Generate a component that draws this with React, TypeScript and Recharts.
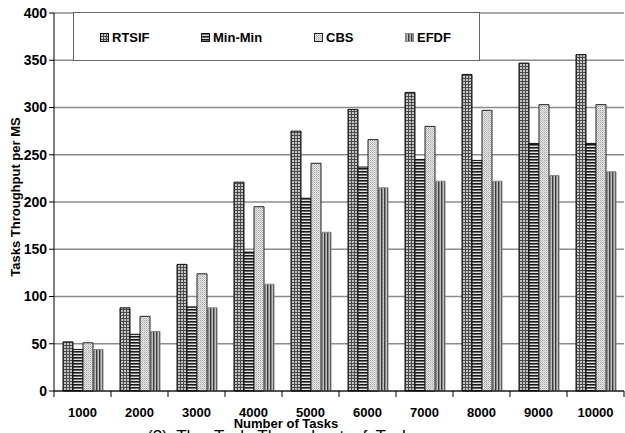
import React from 'react';
import { BarChart, Bar, XAxis, YAxis, CartesianGrid, Label } from 'recharts';

const taskCounts = ['1000', '2000', '3000', '4000', '5000', '6000', '7000', '8000', '9000', '10000'];
const rtsif = [52, 88, 134, 221, 275, 298, 316, 335, 347, 356];
const minMin = [44, 60, 89, 147, 204, 237, 245, 244, 262, 262];
const cbs = [51, 79, 124, 195, 241, 266, 280, 297, 303, 303];
const efdf = [44, 63, 88, 113, 168, 215, 222, 222, 228, 232];
const yTicks = [0, 50, 100, 150, 200, 250, 300, 350, 400];

const data = taskCounts.map((t, i) => ({
  tasks: t,
  RTSIF: rtsif[i],
  'Min-Min': minMin[i],
  CBS: cbs[i],
  EFDF: efdf[i],
}));

const series = [
  { key: 'RTSIF', fill: 'url(#pRtsif)', stroke: '#111', legendLeft: 26 },
  { key: 'Min-Min', fill: 'url(#pMinMin)', stroke: '#111', legendLeft: 127 },
  { key: 'CBS', fill: 'url(#pCbs)', stroke: '#222', legendLeft: 240 },
  { key: 'EFDF', fill: 'url(#pEfdf)', stroke: '#888', legendLeft: 331 },
];

const W = 625;
const H = 433;
const margin = { top: 13, right: 1, left: 0, bottom: 0 };
const yAxisWidth = 54;
const band = (W - margin.left - margin.right - yAxisWidth) / taskCounts.length;
const font = '"Liberation Sans", Arial, sans-serif';

function Patterns() {
  return (
    <defs>
      <pattern id="pRtsif" width="3" height="3" patternUnits="userSpaceOnUse">
        <rect width="3" height="3" fill="#c4c4c4" />
        <rect width="3" height="1" fill="#4a4a4a" />
        <rect width="1" height="3" fill="#4a4a4a" />
      </pattern>
      <pattern id="pMinMin" width="3" height="3" patternUnits="userSpaceOnUse">
        <rect width="3" height="3" fill="#6a6a6a" />
        <rect width="3" height="1" fill="#1a1a1a" />
        <rect y="2" width="3" height="1" fill="#e0e0e0" />
      </pattern>
      <pattern id="pCbs" width="2" height="2" patternUnits="userSpaceOnUse">
        <rect width="2" height="2" fill="#e8e8e8" />
        <rect width="1" height="1" fill="#a8a8a8" />
        <rect x="1" y="1" width="1" height="1" fill="#c4c4c4" />
      </pattern>
      <pattern id="pEfdf" width="3" height="3" patternUnits="userSpaceOnUse">
        <rect width="3" height="3" fill="#c0c0c0" />
        <rect width="1" height="3" fill="#3a3a3a" />
        <rect x="1" width="1" height="3" fill="#8a8a8a" />
      </pattern>
    </defs>
  );
}

function XTick(props: any) {
  const { x, y, payload, index } = props;
  const last = index === taskCounts.length - 1;
  return (
    <g>
      <line x1={x - band / 2} x2={x - band / 2} y1={y} y2={y + 6} stroke="#000" />
      {last && <line x1={x + band / 2} x2={x + band / 2} y1={y} y2={y + 6} stroke="#000" />}
      <text x={x} y={y + 26} textAnchor="middle" fontFamily={font} fontWeight="bold" fontSize={13} fill="#000">
        {payload.value}
      </text>
    </g>
  );
}

function Swatch({ fill, stroke }: { fill: string; stroke: string }) {
  return (
    <svg width={9} height={9} style={{ display: 'block' }}>
      <Patterns />
      <rect x={0.5} y={0.5} width={8} height={8} fill={fill} stroke={stroke} />
    </svg>
  );
}

export default function App() {
  return (
    <div style={{ position: 'absolute', left: 0, top: 0, width: W, height: H, background: '#fff', overflow: 'hidden' }}>
      <BarChart width={W} height={H} data={data} margin={margin} barSize={10} barGap={0}>
        <Patterns />
        <CartesianGrid vertical={false} stroke="#8c8c8c" strokeWidth={1.5} />
        <XAxis
          dataKey="tasks"
          axisLine={{ stroke: '#000' }}
          tickLine={false}
          tickSize={0}
          tickMargin={0}
          height={42}
          tick={<XTick />}
          interval={0}
        >
          <Label
            content={() => (
              <text x={286} y={428} textAnchor="middle" fontFamily={font} fontWeight="bold" fontSize={13} fill="#000">
                Number of Tasks
              </text>
            )}
          />
        </XAxis>
        <YAxis
          width={yAxisWidth}
          domain={[0, 400]}
          ticks={yTicks}
          interval={0}
          axisLine={{ stroke: '#000' }}
          tickLine={{ stroke: '#000' }}
          tickSize={5}
          tick={{ fill: '#000', fontFamily: font, fontWeight: 'bold', fontSize: 14 }}
        >
          <Label
            content={() => (
              <text
                x={15}
                y={197}
                transform="rotate(-90, 15, 197)"
                textAnchor="middle"
                dominantBaseline="central"
                fontFamily={font}
                fontWeight="bold"
                fontSize={13}
                fill="#000"
              >
                Tasks Throughput per MS
              </text>
            )}
          />
        </YAxis>
        {series.map((s) => (
          <Bar key={s.key} dataKey={s.key} fill={s.fill} stroke={s.stroke} strokeWidth={1} isAnimationActive={false} />
        ))}
      </BarChart>
      <div
        style={{
          position: 'absolute',
          left: 73,
          top: 12,
          width: 405,
          height: 47,
          border: '1px solid #666',
          background: '#fff',
          fontFamily: font,
          fontWeight: 'bold',
          fontSize: 13,
        }}
      >
        {series.map((s) => (
          <div
            key={s.key}
            style={{ position: 'absolute', left: s.legendLeft, top: 17, display: 'flex', alignItems: 'center', gap: 3 }}
          >
            <Swatch fill={s.fill} stroke={s.stroke} />
            <span>{s.key}</span>
          </div>
        ))}
      </div>
      <div
        style={{
          position: 'absolute',
          left: 147,
          top: 428,
          fontFamily: font,
          fontSize: 17,
          wordSpacing: 4,
          whiteSpace: 'nowrap',
          lineHeight: '17px',
        }}
      >
        (3) The Task Throughput of Tasks
      </div>
    </div>
  );
}
